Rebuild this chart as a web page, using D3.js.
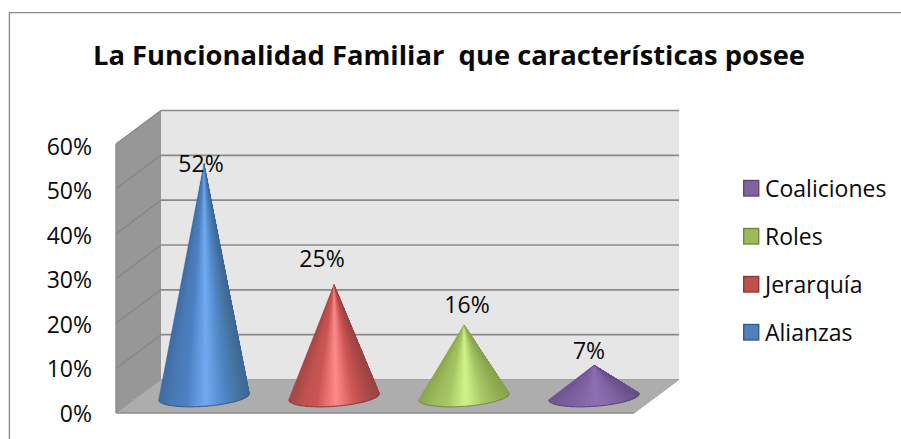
<!DOCTYPE html>
<html><head><meta charset="utf-8">
<script src="https://cdn.jsdelivr.net/npm/d3@7"></script>
<style>html,body{margin:0;padding:0;background:#fff}svg{display:block}text{font-family:"Open Sans",Lato,sans-serif;fill:#0a0a0a}</style>
</head><body><svg id="c" width="901" height="439"></svg>
<script>
const categories = ["Alianzas","Jerarquía","Roles","Coaliciones"];
const values = [0.52,0.25,0.16,0.07];
const valueLabels = ["52%","25%","16%","7%"];
const yTicks = [0,0.1,0.2,0.3,0.4,0.5,0.6];
const titleText = "La Funcionalidad Familiar  que características posee";
const baseColors = ["#4f81bd","#c0504d","#9bbb59","#8064a2"];
const edgeColors = ["#385d8a","#8c3a38","#71893f","#5c4776"];
const shadeStops = [
  ["#3f6ca3","#4a7ab6","#4c80c2","#72aaf0","#4f86c6","#46749f","#3c6696"],
  ["#a24846","#c05250","#c95553","#ff8a8a","#cc5654","#ad4a48","#9a4240"],
  ["#8aa84e","#9dbb5a","#a4c465","#d0f488","#a6c667","#93b055","#86a24c"],
  ["#6f5592","#7a5f9e","#8064a4","#8f6fb4","#8165a5","#735994","#664f86"]
];
const shadeAt = [-1,-0.7,-0.42,0.03,0.45,0.75,1];
const labelDx = [-3,-12,3,-5];
const labelBaselines = [172,267,313,359];

const svg = d3.select("#c");
const fx=116, fy0=413, fy1=144, dx=45, dy=-33.5, wallR=679;
const y = d3.scaleLinear().domain([0,0.6]).range([fy0,fy1]);
const yLabel = d3.scaleLinear().domain([0,0.6]).range([421.5,155]);
const x = d3.scaleBand().domain(categories).range([139,659]).padding(0);
const coneY = v => y(v) - 16.5;
const rx = 45.5, ry = 9.8, tilt = -4.2*Math.PI/180;

svg.append("line").attr("x1",9).attr("x2",901).attr("y1",12.6).attr("y2",12.6).attr("stroke","#8c8c8c").attr("stroke-width",1.4);
svg.append("line").attr("x1",9.4).attr("x2",9.4).attr("y1",12).attr("y2",439).attr("stroke","#8c8c8c").attr("stroke-width",1.4);

const defs = svg.append("defs");
defs.append("filter").attr("id","soft").attr("x","-5%").attr("y","-5%").attr("width","110%").attr("height","110%")
  .append("feGaussianBlur").attr("stdDeviation",0.45);

const pts = a => a.map(p=>p.join(",")).join(" ");
const plot = svg.append("g").attr("filter","url(#soft)");
plot.append("polygon").attr("fill","#e6e6e6")
  .attr("points",pts([[fx+dx,y(0.6)+dy],[wallR,y(0.6)+dy],[wallR,y(0)+dy],[fx+dx,y(0)+dy]]));
plot.append("polygon").attr("fill","#979797")
  .attr("points",pts([[fx,y(0.6)],[fx+dx,y(0.6)+dy],[fx+dx,y(0)+dy],[fx,y(0)]]));
plot.append("polygon").attr("fill","#adadad")
  .attr("points",pts([[fx,y(0)],[fx+dx,y(0)+dy],[wallR,y(0)+dy],[wallR-dx,y(0)]]));

plot.selectAll(".gb").data(yTicks.filter(t=>t>0)).join("line").attr("class","gb")
  .attr("x1",fx+dx).attr("x2",wallR).attr("y1",d=>y(d)+dy).attr("y2",d=>y(d)+dy)
  .attr("stroke","#8a8a8a").attr("stroke-width",1.7);
plot.selectAll(".gs").data(yTicks.filter(t=>t>0)).join("line").attr("class","gs")
  .attr("x1",fx).attr("x2",fx+dx).attr("y1",d=>y(d)).attr("y2",d=>y(d)+dy)
  .attr("stroke","#858585").attr("stroke-width",1.2);
plot.append("line").attr("x1",fx+dx).attr("x2",wallR).attr("y1",y(0)+dy).attr("y2",y(0)+dy).attr("stroke","#a0a0a0").attr("stroke-width",1.2);
plot.append("line").attr("x1",wallR).attr("x2",wallR-dx).attr("y1",y(0)+dy).attr("y2",y(0)).attr("stroke","#a0a0a0").attr("stroke-width",1);
plot.append("line").attr("x1",fx).attr("x2",wallR-dx).attr("y1",y(0)).attr("y2",y(0)).attr("stroke","#8c8c8c").attr("stroke-width",1.7);
plot.append("line").attr("x1",fx).attr("x2",fx+dx).attr("y1",y(0)).attr("y2",y(0)+dy).attr("stroke","#959595").attr("stroke-width",1);
plot.append("line").attr("x1",fx).attr("x2",fx).attr("y1",y(0)).attr("y2",y(0.6)).attr("stroke","#8c8c8c").attr("stroke-width",1.4);
plot.append("line").attr("x1",fx).attr("x2",fx+dx).attr("y1",y(0.6)).attr("y2",y(0.6)+dy).attr("stroke","#8c8c8c").attr("stroke-width",1);

// front rim of a tilted base ellipse, u in [-1,1] from left to right
const rimPoint = u => {
  const ex = rx*u, ey = ry*Math.sqrt(Math.max(0,1-u*u));
  return [ex*Math.cos(tilt)-ey*Math.sin(tilt), ex*Math.sin(tilt)+ey*Math.cos(tilt)];
};
const cData = categories.map((c,i)=>({c,i,v:values[i]}));
const cones = plot.selectAll(".cone").data(cData).join("g").attr("class","cone")
  .attr("transform",d=>`translate(${x(d.c)+x.bandwidth()/2},${coneY(0)})`);
const N = 46;
const us = d3.range(N).map(k=>-1+2*k/N);
cones.each(function(d){
  const h = coneY(0)-coneY(d.v);
  const shade = d3.scaleLinear().domain(shadeAt).range(shadeStops[d.i]).interpolate(d3.interpolateRgb);
  const g = d3.select(this);
  // overlapping wedges, each reaching past the next one, painted left to right to hide seams
  g.selectAll("path.s").data(us).join("path").attr("class","s")
    .attr("d",u=>{
      const step = 2/N;
      const rimPts = d3.range(u, 1+1e-6, step/2).map(rimPoint);
      return "M0,"+(-h)+"L"+rimPts.map(p=>p.join(",")).join("L")+"Z";
    })
    .attr("fill",u=>shade(u+1/N));
  const rim = d3.line()(d3.range(0,97).map(k=>rimPoint(-1+k/48)));
  g.append("path").attr("d",rim).attr("fill","none").attr("stroke",edgeColors[d.i]).attr("stroke-width",1.2).attr("stroke-opacity",0.8);
  g.append("path").attr("d",`M${rimPoint(-1).join(",")}L0,${-h}L${rimPoint(1).join(",")}`).attr("fill","none").attr("stroke",edgeColors[d.i]).attr("stroke-width",0.6).attr("stroke-opacity",0.5);
});

svg.selectAll(".vl").data(cData).join("text").attr("class","vl")
  .attr("x",d=>x(d.c)+x.bandwidth()/2+labelDx[d.i]).attr("y",d=>labelBaselines[d.i])
  .attr("text-anchor","middle").attr("font-size",23).text(d=>valueLabels[d.i]);

svg.selectAll(".yl").data(yTicks).join("text").attr("class","yl")
  .attr("x",92).attr("y",d=>yLabel(d)).attr("text-anchor","end").attr("font-size",23)
  .text(d3.format(".0%"));

svg.append("text").attr("x",93).attr("y",64.5).attr("font-size",27.5).attr("font-weight",700)
  .attr("textLength",712).attr("lengthAdjust","spacingAndGlyphs")
  .style("white-space","pre").text(titleText);

const legendOrder = categories.map((c,i)=>i).reverse();
const leg = d3.scaleBand().domain(legendOrder).range([165,357]);
const lg = svg.selectAll(".lg").data(legendOrder).join("g").attr("class","lg")
  .attr("transform",d=>`translate(743,${leg(d)+leg.bandwidth()/2})`);
lg.append("rect").attr("x",0.7).attr("y",-8.5).attr("width",15).attr("height",15.5)
  .attr("fill",d=>baseColors[d]).attr("stroke",d=>edgeColors[d]).attr("stroke-width",1.4);
lg.append("text").attr("x",22).attr("y",8).attr("font-size",23).text(d=>categories[d]);
</script></body></html>
